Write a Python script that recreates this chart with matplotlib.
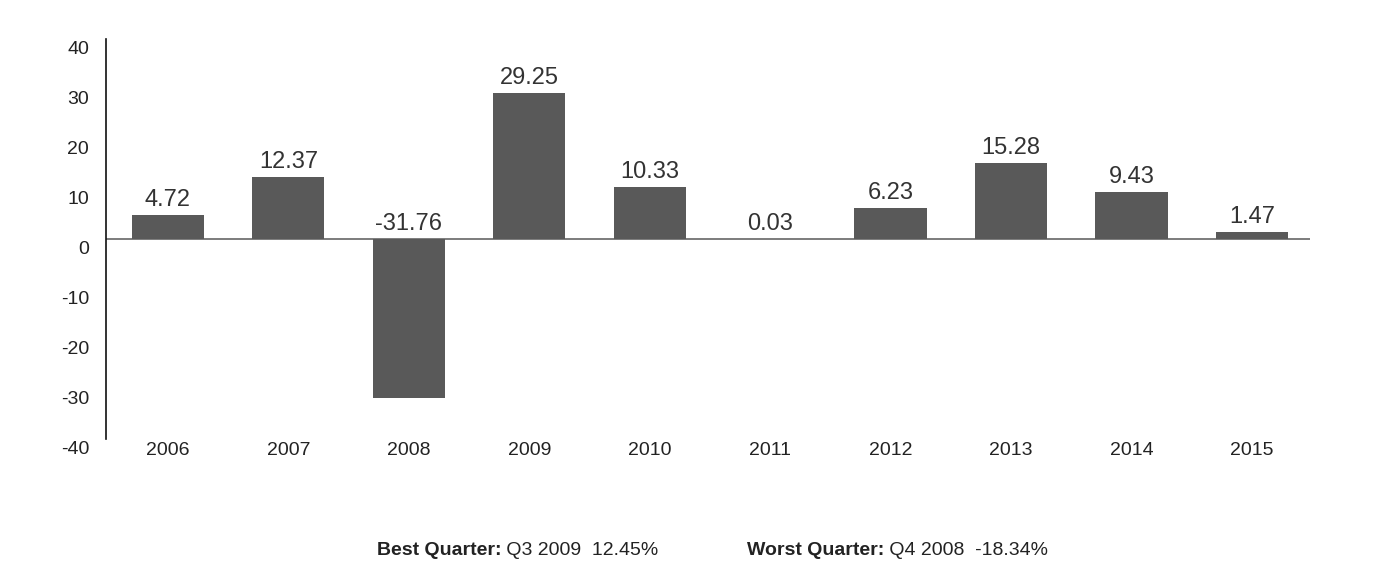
import matplotlib.pyplot as plt
import matplotlib.transforms as mtransforms

# Rendimentos anuais (%)
anos = ['2006', '2007', '2008', '2009', '2010', '2011', '2012', '2013', '2014', '2015']
retornos = [4.72, 12.37, -31.76, 29.25, 10.33, 0.03, 6.23, 15.28, 9.43, 1.47]
rotulos = ['4.72', '12.37', '-31.76', '29.25', '10.33', '0.03', '6.23', '15.28', '9.43', '1.47']
yticks = [-40, -30, -20, -10, 0, 10, 20, 30, 40]

plt.rcParams['font.family'] = ['Liberation Sans', 'DejaVu Sans']

fig = plt.figure(figsize=(13.75, 5.76), dpi=100)
ax = fig.add_axes([0.077, 0.238, 0.876, 0.694])

x = list(range(len(anos)))
ax.bar(x, retornos, width=0.6, color='#595959', zorder=2)
ax.axhline(0, color='#666666', linewidth=1.2, zorder=1)

for xi, v, r in zip(x, retornos, rotulos):
    base = max(v, 0)
    ax.annotate(r, (xi, base), xytext=(0, 3), textcoords='offset points',
                ha='center', va='bottom', fontsize=17, color='#333333')

ax.set_xlim(-0.515, 9.485)
ax.set_ylim(-40, 40)
ax.set_yticks(yticks)
ax.set_yticklabels([str(t) for t in yticks], fontsize=14, color='#222222')
ax.set_xticks(x)
ax.set_xticklabels(anos, fontsize=14, color='#222222')
ax.tick_params(axis='both', length=0)
ax.tick_params(axis='y', pad=12)
ax.tick_params(axis='x', pad=2)

# rótulos do eixo y um pouco abaixo da posição do tick
desloc = mtransforms.ScaledTranslation(0, -6 / 72, fig.dpi_scale_trans)
for lab in ax.get_yticklabels():
    lab.set_transform(lab.get_transform() + desloc)

for lado in ['top', 'right', 'bottom']:
    ax.spines[lado].set_visible(False)
ax.spines['left'].set_color('#111111')
ax.spines['left'].set_linewidth(1.2)

# rodapé: melhor e pior trimestre
t1 = fig.text(0.274, 0.036, 'Best Quarter:', fontsize=14, fontweight='bold', color='#222222')
ax.annotate(' Q3 2009  12.45%', xy=(1, 0), xycoords=t1, fontsize=14, color='#222222',
            va='bottom', annotation_clip=False)
t2 = fig.text(0.543, 0.036, 'Worst Quarter:', fontsize=14, fontweight='bold', color='#222222')
ax.annotate(' Q4 2008  -18.34%', xy=(1, 0), xycoords=t2, fontsize=14, color='#222222',
            va='bottom', annotation_clip=False)

plt.savefig('out.png', dpi=100)
plt.close()
